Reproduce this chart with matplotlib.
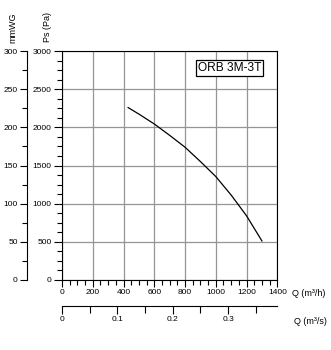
import matplotlib
matplotlib.use("Agg")
import matplotlib.pyplot as plt
from matplotlib.ticker import MultipleLocator

plt.rcParams['font.family'] = ['Liberation Sans', 'DejaVu Sans']

# Fan curve: static pressure vs. airflow
flow_m3h = [430, 500, 600, 700, 800, 900, 1000, 1100, 1200, 1300]
pressure_pa = [2260, 2175, 2045, 1896, 1740, 1552, 1355, 1112, 840, 510]
model_label = "ORB 3M-3T"

q_ticks_m3h = [0, 200, 400, 600, 800, 1000, 1200, 1400]
q_ticks_m3s = [0, 0.1, 0.2, 0.3]
ps_ticks = [0, 500, 1000, 1500, 2000, 2500, 3000]
mmwg_ticks = [0, 50, 100, 150, 200, 250, 300]

W, H = 331, 350
fig = plt.figure(figsize=(W / 100, H / 100), dpi=100)

def fx(px):
    return px / W

def fy(py):
    return 1 - py / H

left, right, top, bottom = 62.0, 277.3, 51.2, 279.8
ax = fig.add_axes([fx(left), fy(bottom), fx(right) - fx(left), fy(top) - fy(bottom)])
ax.set_xlim(0, 1400)
ax.set_ylim(0, 3000)
ax.set_xticks(q_ticks_m3h)
ax.set_yticks(ps_ticks)
ax.xaxis.set_minor_locator(MultipleLocator(50))
ax.yaxis.set_minor_locator(MultipleLocator(125))
ax.grid(True, which='major', color='#959595', linewidth=0.9)
ax.set_axisbelow(True)
for s in ax.spines.values():
    s.set_color('black')
    s.set_linewidth(0.8)
ax.tick_params(axis='both', which='major', length=5, width=0.8, labelsize=6, pad=1.5, colors='black')
ax.tick_params(axis='both', which='minor', length=3.6, width=0.8)
ax.tick_params(axis='y', which='major', length=6)

ax.plot(flow_m3h, pressure_pa, color='black', linewidth=0.9)

ax.text(1089, 2776, model_label, fontsize=8.6, ha='center', va='center',
        bbox=dict(boxstyle='square,pad=0.18', facecolor='white', edgecolor='black', linewidth=0.9))

# mmWG scale on the far left
ax_mm = fig.add_axes([fx(26.7), fy(bottom), 0.0001, fy(top) - fy(bottom)])
ax_mm.set_ylim(0, 300)
ax_mm.set_yticks(mmwg_ticks)
ax_mm.yaxis.set_minor_locator(MultipleLocator(25))
ax_mm.set_xticks([])
for name in ('top', 'right', 'bottom'):
    ax_mm.spines[name].set_visible(False)
ax_mm.spines['left'].set_linewidth(0.8)
ax_mm.patch.set_visible(False)
ax_mm.tick_params(axis='y', which='major', length=5, width=0.8, labelsize=6, pad=1.5)
ax_mm.tick_params(axis='y', which='minor', length=3.6, width=0.8)

# Secondary flow scale in m³/s
ax_s = fig.add_axes([fx(left), fy(305.7), fx(right) - fx(left), 0.0001])
ax_s.set_xlim(0, 1400 / 3600)
ax_s.set_xticks(q_ticks_m3s)
ax_s.set_xticklabels(['0', '0.1', '0.2', '0.3'])
ax_s.xaxis.set_minor_locator(MultipleLocator(0.05))
ax_s.set_yticks([])
for name in ('top', 'right', 'left'):
    ax_s.spines[name].set_visible(False)
ax_s.spines['bottom'].set_linewidth(0.8)
ax_s.patch.set_visible(False)
ax_s.tick_params(axis='x', which='major', length=6, width=0.8, labelsize=6, pad=1.5)
ax_s.tick_params(axis='x', which='minor', length=5, width=0.8)

fig.text(fx(13), fy(28), "mmWG", rotation=90, fontsize=6.5, ha='center', va='center')
fig.text(fx(47), fy(27), "Ps (Pa)", rotation=90, fontsize=6.5, ha='center', va='center')
fig.text(fx(292), fy(293.5), "Q (m³/h)", fontsize=6.5, ha='left', va='center')
fig.text(fx(294), fy(322), "Q (m³/s)", fontsize=6.5, ha='left', va='center')

fig.savefig("out.png", dpi=100)
